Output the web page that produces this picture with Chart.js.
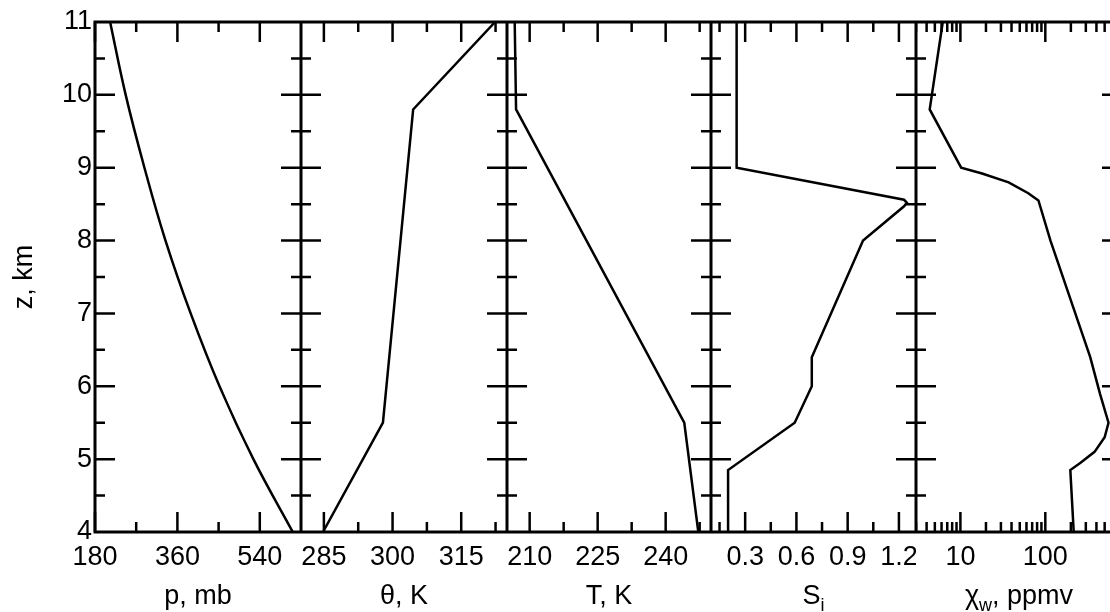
<!DOCTYPE html>
<html>
<head>
<meta charset="utf-8">
<script src="https://cdn.jsdelivr.net/npm/chart.js@4.4.1/dist/chart.umd.min.js"></script>
<style>
  body { margin: 0; background: #fff; width: 1110px; height: 612px; overflow: hidden; position: relative; }
  canvas { position: absolute; top: 0; }
</style>
</head>
<body>
<canvas id="c1"></canvas>
<canvas id="c2"></canvas>
<canvas id="c3"></canvas>
<canvas id="c4"></canvas>
<canvas id="c5"></canvas>
<script>
// heights (km) and values
const pZ = [4, 5, 6, 7, 8, 9, 10, 11];
const pVal = [612, 526, 452, 389, 334, 288, 247, 213];

const thZ = [4, 5.5, 9.8, 11];
const thVal = [284.8, 297.9, 304.5, 322.4];

const tZ = [4, 5.5, 9.8, 11];
const tVal = [247.2, 244.1, 207.0, 206.7];

const sZ = [4, 4.85, 5.5, 6.0, 6.4, 8.0, 8.47, 8.52, 8.56, 9.0, 11];
const sVal = [0.2, 0.2, 0.59, 0.69, 0.69, 0.99, 1.23, 1.246, 1.23, 0.25, 0.25];

const chiZ = [4, 4.85, 4.95, 5.1, 5.3, 5.5, 5.9, 6.4, 8.0, 8.55, 8.65, 8.8, 8.92, 9.0, 9.8, 11];
const chiVal = [216, 197, 260, 380, 500, 555, 440, 338, 115, 83, 63, 37, 18, 10.2, 4.35, 6.2];

const zMajor = [4, 5, 6, 7, 8, 9, 10, 11];
const zMinor = [4.5, 5.5, 6.5, 7.5, 8.5, 9.5, 10.5];

const panels = [
  { id: 'c1', left: 95, right: 301, min: 180, max: 630, type: 'linear', smooth: 0.4,
    major: [180, 360, 540], minor: [270, 450], labels: ['180', '360', '540'],
    title: 'p, mb', sub: '', after: '', z: pZ, v: pVal },
  { id: 'c2', left: 301, right: 507, min: 280, max: 325, type: 'linear', smooth: 0,
    major: [285, 300, 315], minor: [292.5, 307.5, 322.5], labels: ['285', '300', '315'],
    title: 'θ, K', sub: '', after: '', z: thZ, v: thVal },
  { id: 'c3', left: 507, right: 711, min: 205, max: 250, type: 'linear', smooth: 0,
    major: [210, 225, 240], minor: [217.5, 232.5, 247.5], labels: ['210', '225', '240'],
    title: 'T, K', sub: '', after: '', z: tZ, v: tVal },
  { id: 'c4', left: 711, right: 916, min: 0.1, max: 1.3, type: 'linear', smooth: 0,
    major: [0.3, 0.6, 0.9, 1.2], minor: [0.15, 0.45, 0.75, 1.05], labels: ['0.3', '0.6', '0.9', '1.2'],
    title: 'S', sub: 'i', after: '', z: sZ, v: sVal },
  { id: 'c5', left: 916, right: 1122, min: 3, max: 800, type: 'logarithmic', smooth: 0,
    major: [10, 100], minor: [3, 4, 5, 6, 7, 8, 9, 20, 30, 40, 50, 60, 70, 80, 90, 200, 300, 400, 500, 600, 700, 800],
    labels: ['10', '100'], title: 'χ', sub: 'w', after: ', ppmv', z: chiZ, v: chiVal }
];

const FONT = '"Liberation Sans", Arial, sans-serif';
const TOP = 22, BOTTOM = 532;

const frameTicks = {
  id: 'frameTicks',
  afterDraw(chart, args, opts) {
    const ctx = chart.ctx, a = chart.chartArea;
    const x = chart.scales.x, y = chart.scales.y;
    ctx.save();
    ctx.strokeStyle = '#000';
    ctx.lineWidth = 3;
    ctx.strokeRect(a.left, a.top, a.right - a.left, a.bottom - a.top);
    ctx.lineWidth = 2.5;
    ctx.beginPath();
    const mark = (vals, len) => {
      vals.forEach(v => {
        const px = x.getPixelForValue(v);
        ctx.moveTo(px, a.bottom); ctx.lineTo(px, a.bottom - len);
        ctx.moveTo(px, a.top); ctx.lineTo(px, a.top + len);
      });
    };
    mark(opts.major, 20);
    mark(opts.minor, 10);
    const ymark = (vals, len) => {
      vals.forEach(v => {
        const py = y.getPixelForValue(v);
        ctx.moveTo(a.left, py); ctx.lineTo(a.left + len, py);
        ctx.moveTo(a.right, py); ctx.lineTo(a.right - len, py);
      });
    };
    ymark(zMajor.slice(1, -1), 20);
    ymark(zMinor, 10);
    ctx.stroke();
    // axis title with optional subscript
    ctx.fillStyle = '#000';
    ctx.textBaseline = 'alphabetic';
    ctx.font = '27px ' + FONT;
    const w1 = ctx.measureText(opts.title).width;
    ctx.font = '18px ' + FONT;
    const w2 = opts.sub ? ctx.measureText(opts.sub).width : 0;
    ctx.font = '27px ' + FONT;
    const w3 = ctx.measureText(opts.after).width;
    let cx = (a.left + a.right) / 2 - (w1 + w2 + w3) / 2;
    const by = 604;
    ctx.fillText(opts.title, cx, by);
    cx += w1;
    if (opts.sub) {
      ctx.font = '18px ' + FONT;
      ctx.fillText(opts.sub, cx, by + 7);
      cx += w2;
    }
    ctx.font = '27px ' + FONT;
    ctx.fillText(opts.after, cx, by);
    ctx.restore();
  }
};

panels.forEach((p, i) => {
  const first = i === 0;
  const canvas = document.getElementById(p.id);
  const cLeft = first ? 0 : p.left;
  const cWidth = p.right - cLeft;
  canvas.style.left = cLeft + 'px';
  canvas.width = cWidth;
  canvas.height = 612;

  new Chart(canvas.getContext('2d'), {
    type: 'line',
    data: {
      datasets: [{
        data: p.z.map((z, k) => ({ x: p.v[k], y: z })),
        borderColor: '#000',
        borderWidth: 2.5,
        pointRadius: 0,
        fill: false,
        tension: p.smooth
      }]
    },
    options: {
      responsive: false,
      animation: false,
      layout: { padding: { top: TOP, left: 0, right: 0, bottom: 0 } },
      plugins: {
        legend: { display: false },
        tooltip: { enabled: false },
        frameTicks: { major: p.major, minor: p.minor, title: p.title, sub: p.sub, after: p.after }
      },
      scales: {
        x: {
          type: p.type,
          min: p.min,
          max: p.max,
          border: { display: false },
          grid: { display: false, drawTicks: false },
          afterBuildTicks: s => { s.ticks = p.major.map(v => ({ value: v })); },
          afterFit: s => { s.height = 612 - BOTTOM; s.paddingLeft = 0; s.paddingRight = 0; },
          ticks: {
            autoSkip: false,
            maxRotation: 0,
            padding: 9,
            color: '#000',
            font: { family: FONT, size: 27 },
            callback: v => p.labels[p.major.indexOf(v)] ?? ''
          }
        },
        y: {
          type: 'linear',
          min: 4,
          max: 11,
          display: first,
          border: { display: false },
          grid: { display: false, drawTicks: false },
          afterBuildTicks: s => { s.ticks = zMajor.map(v => ({ value: v })); },
          afterFit: s => { if (first) { s.width = p.left; } s.paddingTop = 0; s.paddingBottom = 0; },
          title: { display: true, text: 'z, km', color: '#000', font: { family: FONT, size: 27 }, padding: { top: 8, bottom: 0 } },
          ticks: {
            padding: 3,
            color: '#000',
            font: { family: FONT, size: 27 },
            callback: v => String(v)
          }
        }
      }
    },
    plugins: [frameTicks]
  });
});
</script>
</body>
</html>
